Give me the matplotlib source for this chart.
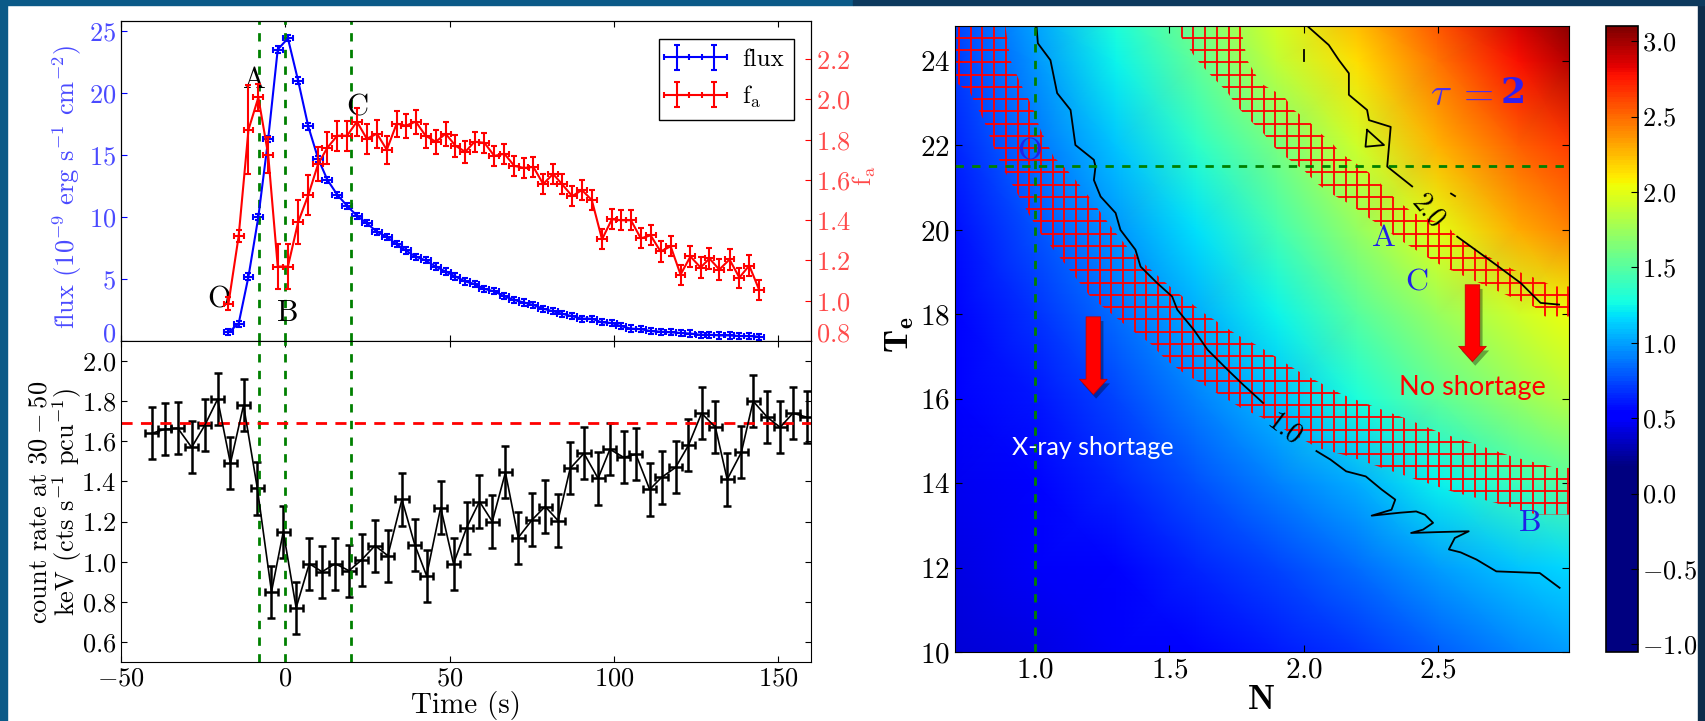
import numpy as np
import matplotlib
matplotlib.use("Agg")
import matplotlib.pyplot as plt
from matplotlib.colors import ListedColormap
from matplotlib.patches import Polygon, FancyArrowPatch, Rectangle
import matplotlib.patheffects as pe

# ---------------- left panel: light curve ----------------
flux_t = [-17.3, -14.2, -11.2, -8.2, -5.2, -2.3, 0.8, 3.9, 7.0, 10.0,
          12.8, 15.8, 18.8, 21.8, 24.8, 27.9, 30.9, 33.9, 36.7, 39.7,
          42.7, 45.8, 48.8, 51.8, 54.8, 57.6, 60.6, 63.6, 66.7, 69.7,
          72.7, 75.5, 78.5, 81.5, 84.2, 87.3, 90.3, 93.3, 96.4, 99.4,
          102.1, 105.2, 108.2, 111.2, 114.2, 117.3, 120.3, 123.3, 126.4, 129.1,
          132.1, 135.2, 138.2, 141.2, 144.2]
flux = [0.7, 1.4, 5.2, 10.0, 16.3, 23.5, 24.4, 21.0, 17.3, 14.7,
        13.0, 11.8, 10.9, 10.1, 9.5, 8.8, 8.4, 7.8, 7.3, 6.8,
        6.5, 6.0, 5.6, 5.2, 4.8, 4.6, 4.2, 4.0, 3.6, 3.3,
        3.1, 2.9, 2.6, 2.4, 2.2, 2.0, 1.8, 1.8, 1.5, 1.45,
        1.2, 1.0, 0.95, 0.8, 0.75, 0.7, 0.65, 0.6, 0.5, 0.5,
        0.45, 0.45, 0.4, 0.4, 0.35]
fa = [0.985, 1.32, 1.85, 2.01, 1.725, 1.17, 1.17, 1.39, 1.525, 1.68,
      1.76, 1.82, 1.82, 1.89, 1.805, 1.83, 1.75, 1.88, 1.87, 1.89,
      1.82, 1.79, 1.83, 1.77, 1.74, 1.79, 1.785, 1.72, 1.73, 1.67,
      1.66, 1.665, 1.58, 1.63, 1.58, 1.52, 1.55, 1.50, 1.305, 1.405,
      1.40, 1.40, 1.31, 1.325, 1.245, 1.27, 1.13, 1.22, 1.165, 1.21,
      1.155, 1.205, 1.115, 1.175, 1.055]
fa_err = [0.033, 0.03, 0.22, 0.067, 0.09, 0.11, 0.11, 0.11, 0.1, 0.085,
          0.08, 0.075, 0.075, 0.07, 0.075, 0.07, 0.07, 0.065, 0.06, 0.06,
          0.06, 0.06, 0.06, 0.055, 0.055, 0.05, 0.05, 0.05, 0.05, 0.05,
          0.05, 0.05, 0.05, 0.05, 0.05, 0.05, 0.05, 0.05, 0.05, 0.05,
          0.05, 0.05, 0.05, 0.05, 0.05, 0.05, 0.05, 0.05, 0.05, 0.05,
          0.05, 0.05, 0.05, 0.05, 0.05]

count_t = [-40.6, -36.7, -32.7, -28.5, -24.5, -20.6, -16.7, -12.7, -8.5, -4.2,
           -0.6, 3.3, 7.3, 11.2, 15.2, 19.4, 23.3, 27.3, 31.2, 35.5,
           39.4, 43.0, 47.3, 51.2, 55.2, 59.1, 63.0, 67.0, 70.9, 75.2,
           79.1, 83.0, 86.7, 90.9, 95.2, 98.8, 103.0, 106.7, 110.9, 114.5,
           118.8, 122.7, 126.7, 130.9, 134.5, 138.8, 142.4, 146.7, 150.6, 154.5,
           158.8]
count = [1.64, 1.66, 1.665, 1.57, 1.68, 1.81, 1.49, 1.78, 1.365, 0.85,
         1.15, 0.77, 0.99, 0.95, 0.99, 0.955, 1.01, 1.08, 1.03, 1.31,
         1.085, 0.93, 1.27, 0.99, 1.17, 1.30, 1.20, 1.445, 1.12, 1.21,
         1.275, 1.205, 1.465, 1.54, 1.415, 1.56, 1.52, 1.535, 1.36, 1.42,
         1.47, 1.58, 1.74, 1.67, 1.41, 1.545, 1.80, 1.72, 1.67, 1.74,
         1.72]
count_err = 0.13
mark_times = [-8, 0, 20]
count_level = 1.69

lc_labels = ["O", "A", "B", "C"]
lc_label_t = [-20.0, -9.4, 0.9, 21.8]
lc_label_flux = [3.3, 21.0, 2.2, 18.8]

# ---------------- right panel: tau map ----------------
N_grid = [0.7, 1.0, 1.3, 1.6, 1.9, 2.2, 2.5, 2.8, 3.0]
Te_grid = [10, 12, 14, 16, 18, 20, 22, 24, 25]
tau = [
    [0.40, 0.44, 0.48, 0.54, 0.61, 0.70, 0.80, 0.92, 0.99],
    [0.44, 0.48, 0.55, 0.64, 0.74, 0.86, 0.98, 1.10, 1.17],
    [0.47, 0.54, 0.64, 0.77, 0.90, 1.03, 1.22, 1.40, 1.50],
    [0.50, 0.60, 0.74, 0.90, 1.08, 1.30, 1.52, 1.72, 1.84],
    [0.54, 0.68, 0.85, 1.03, 1.25, 1.50, 1.73, 1.92, 2.04],
    [0.58, 0.77, 0.97, 1.18, 1.44, 1.72, 2.00, 2.30, 2.42],
    [0.64, 0.87, 1.10, 1.35, 1.62, 1.92, 2.28, 2.52, 2.64],
    [0.71, 0.97, 1.24, 1.53, 1.87, 2.14, 2.47, 2.78, 2.97],
    [0.74, 1.02, 1.31, 1.61, 1.95, 2.25, 2.58, 2.90, 3.10],
]

# contour tau = 1 (two pieces around the label)
c1a_N = [1.004, 1.009, 1.056, 1.081, 1.131, 1.149, 1.218, 1.224, 1.218, 1.243, 1.299,
         1.317, 1.373, 1.392, 1.454, 1.51, 1.529, 1.591, 1.642, 1.716, 1.775, 1.849]
c1a_Te = [24.83, 24.42, 24.02, 23.24, 22.84, 22.01, 21.66, 21.5, 21.18, 20.79, 20.4,
          20.0, 19.53, 19.13, 18.74, 18.42, 18.11, 17.63, 17.16, 16.69, 16.33, 15.9]
c1b_N = [2.048, 2.10, 2.159, 2.232, 2.291, 2.342, 2.328, 2.254, 2.36, 2.42, 2.453, 2.483,
         2.446, 2.401, 2.498, 2.616, 2.564, 2.542, 2.586, 2.645, 2.719, 2.881, 2.955]
c1b_Te = [14.76, 14.56, 14.28, 14.16, 13.85, 13.61, 13.37, 13.23, 13.30, 13.33, 13.25, 13.06,
          12.9, 12.82, 12.84, 12.86, 12.7, 12.43, 12.36, 12.19, 11.91, 11.87, 11.52]
# contour tau = 2
c2a_N = [2.014, 2.094, 2.132, 2.169, 2.169, 2.237, 2.244, 2.325, 2.312, 2.405]
c2a_Te = [24.83, 24.38, 24.02, 23.71, 23.2, 22.84, 22.6, 22.44, 21.5, 21.03]
c2b_N = [2.573, 2.71, 2.81, 2.884, 2.953]
c2b_Te = [19.84, 19.21, 18.74, 18.27, 18.23]
c2c_N = [2.237, 2.231, 2.30, 2.237]
c2c_Te = [22.37, 21.97, 22.01, 22.37]

# hatched bands (allowed f_a ranges)
band1_N = [0.70, 0.888, 0.907, 0.944, 0.988, 1.019, 1.068, 1.118, 1.18, 1.255, 1.29, 1.342,
           1.417, 1.516, 1.628, 1.753, 1.834, 1.981, 2.144, 2.276, 2.394, 2.512, 2.63, 2.778,
           2.94, 2.99,
           2.99, 2.866, 2.719, 2.571, 2.424, 2.276, 2.173, 2.055, 1.863, 1.767, 1.627, 1.553,
           1.487, 1.43, 1.342, 1.28, 1.205, 1.156, 1.118, 1.068, 1.019, 0.981, 0.932, 0.882,
           0.844, 0.807, 0.757, 0.708, 0.70]
band1_Te = [24.83, 24.83, 24.02, 23.47, 22.92, 22.37, 21.73, 21.42, 20.95, 20.31, 20.0, 19.6,
            19.13, 18.58, 18.03, 17.51, 17.24, 16.65, 16.1, 15.78, 15.5, 15.19, 14.95, 14.63,
            14.36, 14.36,
            13.26, 13.26, 13.53, 13.77, 14.08, 14.4, 14.63, 14.83, 15.5, 15.78, 16.33, 16.61,
            16.92, 17.3, 17.71, 18.03, 18.42, 18.82, 19.13, 19.53, 19.92, 20.31, 20.87, 21.42,
            21.97, 22.6, 23.24, 23.47, 23.47]
band2_N = [1.516, 1.765, 1.79, 1.84, 1.927, 1.964, 2.014, 2.063, 2.107, 2.138, 2.231, 2.275,
           2.318, 2.362, 2.41, 2.536, 2.586, 2.648, 2.71, 2.785, 2.847, 2.934, 2.99,
           2.99, 2.90, 2.86, 2.77, 2.685, 2.60, 2.51, 2.437, 2.36, 2.31, 2.237, 2.188, 2.10,
           2.05, 2.0, 1.933, 1.89, 1.85, 1.80, 1.753, 1.715, 1.653, 1.603]
band2_Te = [24.83, 24.83, 24.02, 23.47, 23.16, 22.84, 22.6, 22.29, 22.05, 21.82, 21.42, 21.18,
            20.87, 20.63, 20.4, 20.08, 19.76, 19.53, 19.29, 19.05, 18.9, 18.66, 18.66,
            17.95, 17.95, 18.18, 18.42, 18.66, 18.9, 19.17, 19.45, 19.76, 20.0, 20.31, 20.55, 20.87,
            21.1, 21.42, 21.73, 21.97, 22.29, 22.6, 22.92, 23.27, 23.67, 24.02]

point_labels = ["O", "A", "C", "B"]
point_N = [0.98, 2.30, 2.424, 2.845]
point_Te = [21.85, 19.8, 18.74, 13.06]
N_mark = 1.0
Te_mark = 21.52

# ---------------- style ----------------
plt.rcParams['font.family'] = 'serif'
plt.rcParams['font.serif'] = ['cmr10']
plt.rcParams['mathtext.fontset'] = 'cm'
plt.rcParams['axes.formatter.use_mathtext'] = True
plt.rcParams['xtick.direction'] = 'in'
plt.rcParams['ytick.direction'] = 'in'

fig = plt.figure(figsize=(17.05, 7.21), dpi=100)
W, H = 1705.0, 721.0


def fig_rect(x0, y0, x1, y1):
    # pixel box (top-left origin) -> figure fraction rect
    return [x0 / W, 1 - y1 / H, (x1 - x0) / W, (y1 - y0) / H]


def fig_label(x, y, s, **kw):
    # centred label at a pixel position (top-left origin)
    fig.text(x / W, 1 - y / H, s, ha='center', va='center', **kw)


# slide frame
fig.add_artist(Rectangle((0, 0), 7 / W, 1, transform=fig.transFigure, color='#0b5a88', zorder=-5))
fig.add_artist(Rectangle((1698 / W, 0), 7 / W, 1, transform=fig.transFigure, color='#0d2d4c', zorder=-5))
fig.add_artist(Rectangle((0, 1 - 5 / H), 0.5, 5 / H, transform=fig.transFigure, color='#0b5a88', zorder=-5))
fig.add_artist(Rectangle((0.5, 1 - 5 / H), 0.5, 5 / H, transform=fig.transFigure, color='#0d3a5e', zorder=-5))

blue_txt = '#4a4aff'
red_txt = '#ff4a4a'

# ---- top left: flux and f_a ----
ax1 = fig.add_axes(fig_rect(121, 21, 811, 341))
ax2 = ax1.twinx()
h_flux = ax1.errorbar(flux_t, flux, xerr=1.5, yerr=0.25, color='b', lw=1.5,
                      elinewidth=1.5, capsize=2.5, capthick=1.5)
h_fa = ax2.errorbar(flux_t, fa, xerr=1.5, yerr=fa_err, color='r', lw=1.5,
                    elinewidth=1.5, capsize=2.5, capthick=1.5)
for t in mark_times:
    ax1.axvline(t, color='g', ls='--', lw=2, dashes=(3, 3))
for s, t, f in zip(lc_labels, lc_label_t, lc_label_flux):
    ax1.text(t, f, s, fontsize=22, ha='center', va='center')
ax1.set_xlim(-50, 160)
ax1.set_ylim(0, 25.8)
ax2.set_ylim(0.8, 2.39)
ax1.set_xticks([-50, 0, 50, 100, 150])
ax1.set_xticklabels([])
ax1.set_yticks([0, 5, 10, 15, 20, 25])
ax2.set_yticks([0.8, 1.0, 1.2, 1.4, 1.6, 1.8, 2.0, 2.2])
ax1.tick_params(axis='y', colors='b', labelcolor=blue_txt, labelsize=19, length=4)
ax1.tick_params(axis='x', top=True, length=4)
ax2.tick_params(axis='y', colors='r', labelcolor=red_txt, labelsize=19, length=4)
ax1.get_yticklabels()[0].set_verticalalignment('baseline')
ax2.get_yticklabels()[0].set_verticalalignment('baseline')
fig_label(67, 187, r'flux ($10^{-9}$ erg s$^{-1}$ cm$^{-2}$)', color=blue_txt,
          fontsize=19, rotation=90)
fig_label(864, 176, r'f$_{\rm a}$', color=red_txt, fontsize=19, rotation=90)
ax2.legend([h_flux, h_fa], ['flux', r'f$_{\rm a}$'], loc='upper right', numpoints=2,
           fancybox=False, edgecolor='k', framealpha=1, fontsize=18,
           handlelength=2.1, borderaxespad=0.7)

# ---- bottom left: hard X-ray count rate ----
ax3 = fig.add_axes(fig_rect(121, 341, 811, 662))
ax3.errorbar(count_t, count, xerr=2, yerr=count_err, color='k', lw=1.2,
             elinewidth=1.8, capsize=3, capthick=1.8)
for t in mark_times:
    ax3.axvline(t, color='g', ls='--', lw=2, dashes=(3, 3))
ax3.axhline(count_level, color='r', ls='--', lw=2, dashes=(4, 3))
ax3.set_xlim(-50, 160)
ax3.set_ylim(0.5, 2.1)
ax3.set_xticks([-50, 0, 50, 100, 150])
ax3.set_yticks([0.6, 0.8, 1.0, 1.2, 1.4, 1.6, 1.8, 2.0])
ax3.tick_params(labelsize=19, length=4, top=True, right=True)
fig_label(466, 706, 'Time (s)', fontsize=21)
fig_label(56, 502, 'count rate at $30-50$\nkeV (cts s$^{-1}$ pcu$^{-1}$)', fontsize=19,
          rotation=90, linespacing=0.95)

# ---- right: tau map ----
cm_vals = np.linspace(-1.05, 3.1, 256)
cmap = ListedColormap(plt.get_cmap('jet')(np.clip((cm_vals - 0.17) / 2.93, 0, 1)))

ax4 = fig.add_axes(fig_rect(955, 26, 1569, 652))
mesh = ax4.pcolormesh(N_grid, Te_grid, tau, shading='gouraud', cmap=cmap, vmin=-1.05, vmax=3.1)
ax4.set_xlim(0.7, 2.99)
ax4.set_ylim(10, 24.83)


def hatch_band(ax, xs, ys):
    poly = Polygon(np.column_stack([xs, ys]), closed=True, fill=False, lw=0,
                   transform=ax.transData)
    ax.add_patch(poly)
    for x in np.arange(0.715, 3.0, 0.0437):
        ln, = ax.plot([x, x], [9, 26], color='red', lw=1.3)
        ln.set_clip_path(poly)
    for y in np.arange(10.05, 25.5, 0.29):
        ln, = ax.plot([0.6, 3.1], [y, y], color='red', lw=1.3)
        ln.set_clip_path(poly)


hatch_band(ax4, band1_N, band1_Te)
hatch_band(ax4, band2_N, band2_Te)

for xs, ys in [(c1a_N, c1a_Te), (c1b_N, c1b_Te), (c2a_N, c2a_Te), (c2b_N, c2b_Te),
               (c2c_N, c2c_Te), ([2.0, 2.0], [24.25, 24.0]), ([2.55, 2.565], [20.86, 20.8])]:
    ax4.plot(xs, ys, color='k', lw=1.3)
ax4.text(1.93, 15.27, '1.0', fontsize=20, rotation=-37, ha='center', va='center')
ax4.text(2.462, 20.43, '2.0', fontsize=20, rotation=-50, ha='center', va='center')

ax4.axvline(N_mark, color='g', ls='--', lw=2, dashes=(3, 3))
ax4.axhline(Te_mark, color='g', ls='--', lw=2, dashes=(3, 3))

for s, n, te in zip(point_labels, point_N, point_Te):
    ax4.text(n, te, s, fontsize=23, color='#2020e8', ha='center', va='center')
ax4.text(2.511, 23.2, r'$\tau$', fontsize=28, color='#4a30f0', ha='center', va='center')
ax4.text(2.642, 23.2, r'$=$', fontsize=28, color='#4a30f0', ha='center', va='center')
ax4.text(2.78, 23.25, '2', family='DejaVu Serif', fontweight='bold', fontsize=26,
         color='#3020f0', ha='center', va='center')

for n, te0, te1 in [(1.216, 17.94, 16.1), (2.63, 18.7, 16.88)]:
    arr = FancyArrowPatch((n, te0), (n, te1), arrowstyle='simple,head_length=11,head_width=20,tail_width=10.5',
                          mutation_scale=1, shrinkA=0, shrinkB=0, color='#ff0000', lw=0.5,
                          ec='#c00000', zorder=5)
    arr.set_path_effects([pe.SimplePatchShadow(offset=(2, -3), shadow_rgbFace='k', alpha=0.35), pe.Normal()])
    ax4.add_patch(arr)

ax4.text(1.213, 14.84, 'X-ray shortage', family='Lato', fontsize=18, color='white',
         ha='center', va='center')
ax4.text(2.63, 16.26, 'No shortage', family='Lato', fontsize=19.5, color='red',
         ha='center', va='center')

ax4.set_xticks([1.0, 1.5, 2.0, 2.5])
ax4.set_yticks([10, 12, 14, 16, 18, 20, 22, 24])
ax4.tick_params(labelsize=21, length=5, top=True, right=True)
fig_label(1261, 700, r'$\mathbf{N}$', fontsize=25)
fig_label(900, 335, r'$\mathbf{T_e}$', fontsize=24, rotation=90)

cax = fig.add_axes(fig_rect(1606, 26, 1638, 652))
cb = fig.colorbar(mesh, cax=cax)
cb.set_ticks([-1.0, -0.5, 0.0, 0.5, 1.0, 1.5, 2.0, 2.5, 3.0])
cax.tick_params(labelsize=19, direction='in', length=5, pad=3)
cb.outline.set_linewidth(1.2)

fig.savefig('out.png', dpi=100)
